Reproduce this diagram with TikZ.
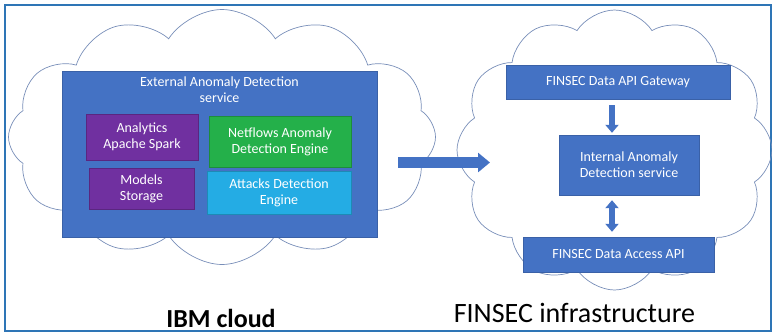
\documentclass[tikz,border=0pt]{standalone}
\usepackage{fontspec}
\setmainfont{Carlito}
\usetikzlibrary{arrows.meta,positioning,shapes.symbols}
\definecolor{ibmblue}{RGB}{68,114,196}
\definecolor{sparkpurple}{RGB}{112,48,160}
\definecolor{netgreen}{RGB}{36,176,74}
\definecolor{atkcyan}{RGB}{36,172,228}
\definecolor{cloudline}{RGB}{120,142,184}
\definecolor{framecol}{RGB}{46,117,182}

\begin{document}
\begin{tikzpicture}[
    x=1pt, y=-1pt,
    cloudshape/.style={
        cloud,
        cloud puffs=12,
        cloud puff arc=115,
        draw=cloudline,
        line width=0.7pt,
        inner sep=0pt
    },
    box/.style={
        align=center,
        inner sep=0pt,
        text=white,
        font=\fontsize{14}{16}\selectfont
    },
    svcbox/.style={
        box,
        fill=ibmblue,
        draw=ibmblue!85!black,
        line width=0.4pt
    },
    sparkbox/.style={
        box,
        fill=sparkpurple,
        draw=sparkpurple!80!black,
        line width=0.4pt
    },
    caption/.style={
        anchor=base,
        inner sep=0pt,
        text=black
    },
    bigarrow/.style={-{Triangle[length=12pt,width=19pt]}, line width=11pt, draw=ibmblue},
    smallarrow/.style={-{Triangle[length=8pt,width=13pt]}, line width=6pt, draw=ibmblue},
    dblarrow/.style={{Triangle[length=8pt,width=13pt]}-{Triangle[length=8pt,width=13pt]}, line width=6pt, draw=ibmblue}
]
\useasboundingbox (0,0) rectangle (772,333);
\draw[framecol, line width=1.2pt] (5,5) rectangle (771,331);

% the two clouds
\node[cloudshape, minimum width=427pt, minimum height=255pt] (ibmcloud) at (222,137) {};
\node[cloudshape, minimum width=315pt, minimum height=280pt] (fincloud) at (614.5,150) {};

% IBM side
\node[svcbox, minimum width=315pt, minimum height=166pt] (extsvc) at (219.5,154) {};
\node[box, below=6pt of extsvc.north] (exttitle) {External Anomaly Detection\\service};
\node[sparkbox, minimum width=112pt, minimum height=46pt] (analytics) at (142,137) {Analytics\\Apache Spark};
\node[sparkbox, minimum width=105pt, minimum height=41pt] (models) at (141.5,188.5) {Models\\Storage};
\node[box, fill=netgreen, draw=netgreen!80!black, minimum width=142pt, minimum height=51pt] (netflows) at (280,141.5) {Netflows Anomaly\\Detection Engine};
\node[box, fill=atkcyan, draw=atkcyan!80!black, minimum width=144pt, minimum height=43pt] (attacks) at (279,192.5) {Attacks Detection\\Engine};

% FINSEC side
\node[svcbox, minimum width=224pt, minimum height=34pt] (gateway) at (618,82) {FINSEC Data API Gateway};
\node[svcbox, minimum width=140pt, minimum height=60pt] (internal) at (629,165) {Internal Anomaly\\Detection service};
\node[svcbox, minimum width=191pt, minimum height=35pt] (access) at (618.5,254.5) {FINSEC Data Access API};

% captions
\node[caption, font=\fontsize{26}{30}\selectfont\bfseries] (ibmlabel) at (221,327) {IBM cloud};
\node[caption, font=\fontsize{28}{32}\selectfont] (finlabel) at (574.5,322) {FINSEC infrastructure};

% arrows
\coordinate (arrtail) at (398,162.5);
\coordinate (arrtip) at (490,162.5);
\coordinate (vx) at (612,0);
\draw[bigarrow] (arrtail) -- (arrtip);
\draw[smallarrow] ([yshift=-6pt]gateway.south -| vx) -- ([yshift=2pt]internal.north -| vx);
\draw[dblarrow] ([yshift=-5pt]internal.south -| vx) -- ([yshift=5pt]access.north -| vx);
\end{tikzpicture}
\end{document}
